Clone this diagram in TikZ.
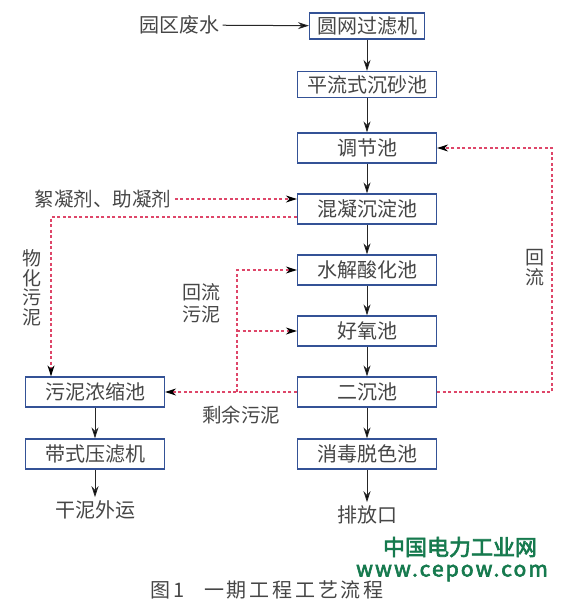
\documentclass[tikz,border=0pt]{standalone}
\usepackage{fontspec}
\setmainfont{Noto Sans CJK SC}
\newfontfamily\wmfont{Noto Sans CJK SC}[FakeBold=3]
\usetikzlibrary{positioning,arrows.meta}
\definecolor{boxblue}{RGB}{52,82,150}
\definecolor{sludgered}{RGB}{222,70,105}
\definecolor{txtgray}{RGB}{70,70,70}
\definecolor{wmgreen}{RGB}{22,122,78}

\begin{document}
\begin{tikzpicture}[x=1pt, y=-1pt, on grid, auto,
font=\fontsize{20}{22}\selectfont, text=txtgray,
unit/.style={draw=boxblue, line width=1.2pt, fill=white,
minimum width=139pt, minimum height=30pt, inner sep=0pt},
flow/.style={-{Stealth[length=11pt,width=7pt]}, line width=1pt, draw=black!85},
sludge/.style={-{Stealth[length=11pt,width=7pt,black]}, draw=sludgered,
line width=1.2pt, dash pattern=on 3pt off 2.5pt}]
\useasboundingbox (0,0) rectangle (560,602);

% main line
\node [unit, minimum width=115pt, minimum height=26pt] (screen) at (367,26) {圆网过滤机};
\node [unit, minimum height=26pt] (grit) [below=58.5pt of screen] {平流式沉砂池};
\node [unit] (equal) [below=63.5pt of grit] {调节池};
\node [unit] (coag) [below=61pt of equal] {混凝沉淀池};
\node [unit] (hydro) [below=61pt of coag] {水解酸化池};
\node [unit] (oxic) [below=61pt of hydro] {好氧池};
\node [unit] (sed2) [below=61pt of oxic] {二沉池};
\node [unit] (disinf) [below=62pt of sed2] {消毒脱色池};
\node (outlet) [below=61pt of disinf] {排放口};

% sludge line
\node [unit] (thick) [left=272pt of sed2] {污泥浓缩池};
\node [unit] (press) [below=62pt of thick] {带式压滤机};
\node (cake) [below=56pt of press] {干泥外运};

% inputs and labels
\node (inflow) at (179,25) {园区废水};
\node [font=\fontsize{19.5}{22}\selectfont] (dose) at (103,199) {絮凝剂、助凝剂};
\node [align=center, font=\fontsize{19}{19.5}\selectfont] (physlbl) at (32,288) {物\\化\\污\\泥};
\node [align=center, font=\fontsize{19}{22}\selectfont] (retlbl) at (201,303) {回流\\污泥};
\node [font=\fontsize{19.5}{20}\selectfont] (excess) at (241,415) {剩余污泥};
\node [align=center, font=\fontsize{19}{20}\selectfont] (backlbl) at (535,268) {回\\流};

\coordinate (rsplit) at (237,392);
\coordinate (rcorner) at (552,270);

\path [flow]
(inflow) edge (screen)
(screen) edge (grit)
(grit) edge (equal)
(equal) edge (coag)
(coag) edge (hydro)
(hydro) edge (oxic)
(oxic) edge (sed2)
(sed2) edge (disinf)
(disinf) edge (outlet)
(thick) edge (press)
(press) edge (cake);

\draw [sludge] (dose.east) -- (dose.east -| coag.west);
\draw [sludge] ([yshift=-8pt]coag.west) -| ([xshift=-44pt]thick.north);
\draw [sludge] (sed2.west) -- (thick.east);
\draw [sludge] (rsplit) |- (hydro.west);
\draw [sludge] (rsplit |- oxic.west) -- (oxic.west);
\draw [sludge] (sed2.east) -| (rcorner) |- (equal.east);

% caption and mark
\node [font=\fontsize{20}{22}\selectfont\addfontfeature{LetterSpace=14}] (caption) at (267,590) {图1\quad 一期工程工艺流程};
\node [text=wmgreen, font=\fontsize{22}{24}\wmfont] (wm1) at (460,547) {中国电力工业网};
\node [text=wmgreen, font=\fontsize{21}{24}\wmfont\addfontfeature{LetterSpace=10}] (wm2) at (452,573) {www.cepow.com};
\end{tikzpicture}
\end{document}
